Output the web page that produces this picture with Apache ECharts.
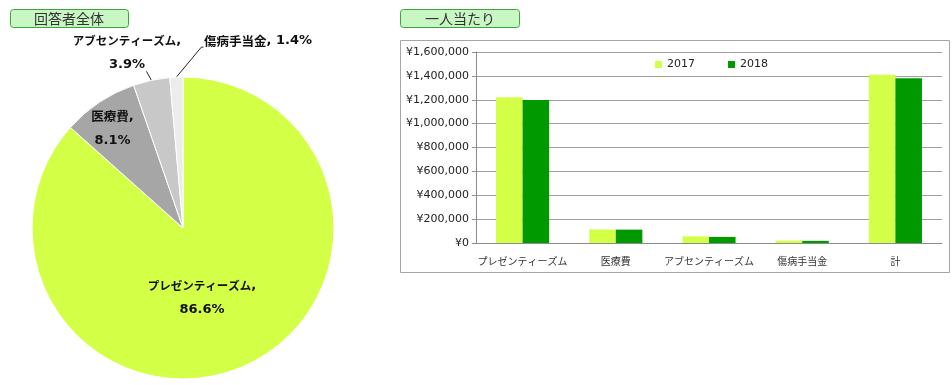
<!DOCTYPE html>
<html><head><meta charset="utf-8">
<script src="https://cdn.jsdelivr.net/npm/echarts@6/dist/echarts.min.js"></script>
<style>html,body{margin:0;padding:0;background:#fff}#c{width:952px;height:385px}</style>
</head><body><div id="c"></div>
<script>
const pieNames = ['プレゼンティーズム', '医療費', 'アブセンティーズム', '傷病手当金'];
const pieShares = [86.6, 8.1, 3.9, 1.4];
const barCategories = ['プレゼンティーズム', '医療費', 'アブセンティーズム', '傷病手当金', '計'];
const values2017 = [1221000, 113000, 55000, 20000, 1410000];
const values2018 = [1197000, 112000, 51000, 18000, 1380000];
const seriesNames = ['2017', '2018'];
const yTicks = [0, 200000, 400000, 600000, 800000, 1000000, 1200000, 1400000, 1600000];

const JP = '"Noto Sans CJK JP", sans-serif';
const LAT = '"DejaVu Sans", Verdana, sans-serif';
const pieColors = ['#d4ff47', '#a6a6a6', '#c8c8c8', '#ececec'];
const insideOffsets = {0: [-13, -2], 1: [-27, -34]};
const outsideLabels = {
  2: {x: 127, y: 53, align: 'center', bend: [-5, -9], tail: [-5, -9]},
  3: {x: 204, y: 41, align: 'left', bend: [25, -30], tail: [27, -30]}
};
const kanaNames = {0: true, 2: true};

const chart = echarts.init(document.getElementById('c'), null, {renderer: 'canvas'});
chart.setOption({
  animation: false,
  textStyle: {fontFamily: JP},
  graphic: [
    {type: 'rect', shape: {x: 10.5, y: 9.5, width: 118, height: 18, r: 3},
     style: {fill: '#c9f7c4', stroke: '#3aa63a', lineWidth: 1}},
    {type: 'text', x: 69, y: 18.5, style: {text: '回答者全体', fontSize: 14, fontFamily: JP, fill: '#333', align: 'center', verticalAlign: 'middle'}},
    {type: 'rect', shape: {x: 400.5, y: 9.5, width: 119, height: 18, r: 3},
     style: {fill: '#c9f7c4', stroke: '#3aa63a', lineWidth: 1}},
    {type: 'text', x: 460, y: 18.5, style: {text: '一人当たり', fontSize: 14, fontFamily: JP, fill: '#333', align: 'center', verticalAlign: 'middle'}},
    {type: 'rect', shape: {x: 400.5, y: 40.5, width: 549, height: 232},
     style: {fill: 'none', stroke: '#a6a6a6', lineWidth: 1}}
  ],
  legend: {
    data: seriesNames, left: 650, top: 54, itemWidth: 7, itemHeight: 7, itemGap: 33,
    icon: 'rect', textStyle: {fontSize: 11, color: '#222', fontFamily: LAT}
  },
  grid: {left: 476, top: 52, right: 10, bottom: 142},
  xAxis: {
    type: 'category', data: barCategories,
    axisLine: {lineStyle: {color: '#8c8c8c'}},
    axisTick: {lineStyle: {color: '#8c8c8c'}, length: 4},
    axisLabel: {fontSize: 10, color: '#333', margin: 13, interval: 0, fontFamily: JP}
  },
  yAxis: {
    type: 'value', min: yTicks[0], max: yTicks[yTicks.length - 1], interval: yTicks[1] - yTicks[0],
    axisLine: {show: true, lineStyle: {color: '#8c8c8c'}},
    axisTick: {show: true, length: 4, lineStyle: {color: '#8c8c8c'}},
    splitLine: {lineStyle: {color: '#a0a0a0'}},
    axisLabel: {fontSize: 11, color: '#222', margin: 7, fontFamily: LAT,
      formatter: v => '¥' + v.toLocaleString('en-US')}
  },
  series: [
    {type: 'bar', name: seriesNames[0], data: values2017, itemStyle: {color: '#d4ff47'},
     barGap: '0%', barCategoryGap: '43%'},
    {type: 'bar', name: seriesNames[1], data: values2018, itemStyle: {color: '#009900'}},
    {type: 'pie', center: [183, 228], radius: 151, startAngle: 90, clockwise: true,
     itemStyle: {borderColor: '#fff', borderWidth: 1},
     data: pieNames.map((n, i) => ({
       name: n, value: pieShares[i], itemStyle: {color: pieColors[i]},
       label: i < 2 ? {position: 'inside', offset: insideOffsets[i]} : {position: 'outside'},
       labelLine: {show: i >= 2}
     })),
     label: {
       color: '#111', fontWeight: 'bold', overflow: 'none',
       formatter: p => {
         const nm = kanaNames[p.dataIndex] ? '{k|' + p.name + '}' : '{j|' + p.name + '}';
         const sep = p.dataIndex === 3 ? '{n|, }' : '{n|,}\n';
         return nm + sep + '{n|' + p.value + '%}';
       },
       rich: {
         k: {fontSize: 11.5, fontWeight: 'bold', fontFamily: JP, color: '#111', lineHeight: 24},
         j: {fontSize: 12.5, fontWeight: 'bold', fontFamily: JP, color: '#111', lineHeight: 24},
         n: {fontSize: 13, fontWeight: 'bold', fontFamily: LAT, color: '#111', lineHeight: 24}
       }
     },
     labelLine: {length: 8, length2: 4, lineStyle: {color: '#222', width: 1}},
     labelLayout: p => {
       const o = outsideLabels[p.dataIndex];
       if (!o) return {};
       const res = {x: o.x, y: o.y, align: o.align, verticalAlign: 'middle'};
       if (p.labelLinePoints && p.labelLinePoints.length) {
         const s = p.labelLinePoints[0];
         res.labelLinePoints = [
           [s[0], s[1]],
           [s[0] + o.bend[0], s[1] + o.bend[1]],
           [s[0] + o.tail[0], s[1] + o.tail[1]]
         ];
       }
       return res;
     }
    }
  ]
});
</script></body></html>
